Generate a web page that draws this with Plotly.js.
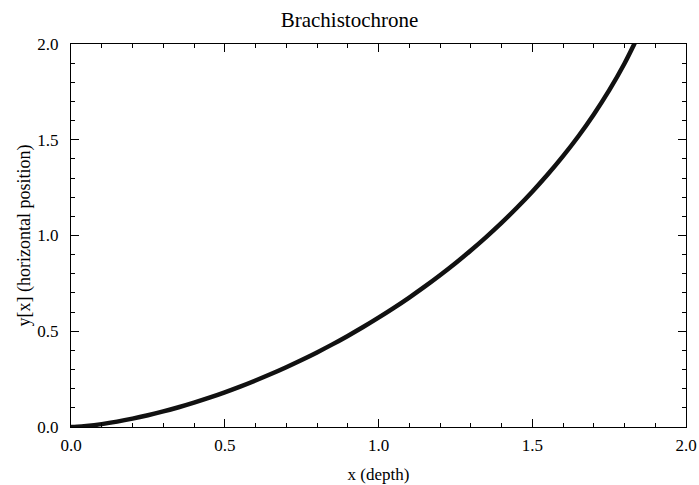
<!DOCTYPE html>
<html>
<head>
<meta charset="utf-8">
<script src="https://cdn.plot.ly/plotly-3.0.1.min.js"></script>
<style>
  html, body { margin: 0; padding: 0; background: #fff; }
  #chart { width: 699px; height: 485px; }
</style>
</head>
<body>
<div id="chart"></div>
<script>
// Brachistochrone curve: depth (x) vs horizontal position (y)
const depth = [0, 0.02, 0.05, 0.1, 0.15, 0.2, 0.25, 0.3, 0.35, 0.4, 0.45, 0.5, 0.55, 0.6, 0.65, 0.7, 0.75, 0.8, 0.85, 0.9, 0.95, 1.0,
               1.05, 1.1, 1.15, 1.2, 1.25, 1.3, 1.35, 1.4, 1.45, 1.5, 1.55, 1.6, 1.65, 1.7, 1.75, 1.8, 1.83, 1.84];
const horiz = [0, 0.0013, 0.0054, 0.0151, 0.0280, 0.0435, 0.0613, 0.0813, 0.1033, 0.1273, 0.1532, 0.1812, 0.2110, 0.2428, 0.2765, 0.3122, 0.3499, 0.3896, 0.4314, 0.4756, 0.5219, 0.5708,
               0.6221, 0.6760, 0.7327, 0.7924, 0.8552, 0.9216, 0.9917, 1.0658, 1.1447, 1.2284, 1.3181, 1.4143, 1.5183, 1.6321, 1.7575, 1.8981, 1.9939, 2.0274];

const xTickVals = [0, 0.5, 1.0, 1.5, 2.0];
const yTickVals = [0, 0.5, 1.0, 1.5, 2.0];

const serif = "Liberation Serif, Times New Roman, serif";

const axisCommon = {
  range: [0, 2],
  showgrid: false,
  zeroline: false,
  showline: true,
  linecolor: '#000',
  linewidth: 1,
  mirror: 'allticks',
  ticks: 'inside',
  ticklen: 8,
  tickwidth: 1,
  tickcolor: '#000',
  tickformat: '.1f',
  tickfont: { family: serif, size: 17, color: '#000' },
  minor: { dtick: 0.1, ticks: 'inside', ticklen: 4, tickwidth: 1, tickcolor: '#000', showgrid: false }
};

const trace = {
  x: depth,
  y: horiz,
  type: 'scatter',
  mode: 'lines',
  line: { color: '#111', width: 4.5, shape: 'spline' },
  cliponaxis: true,
  hoverinfo: 'skip'
};

const layout = {
  width: 699,
  height: 485,
  margin: { l: 71, r: 13, t: 44, b: 58 },
  paper_bgcolor: '#fff',
  plot_bgcolor: '#fff',
  showlegend: false,
  title: { text: 'Brachistochrone', font: { family: serif, size: 21, color: '#000' }, x: 0.5, xanchor: 'center', y: 0.959, yanchor: 'middle', yref: 'container' },
  xaxis: Object.assign({}, axisCommon, {
    tickvals: xTickVals,
    ticklabelstandoff: 3,
    title: { text: 'x (depth)', font: { family: serif, size: 17, color: '#000' }, standoff: 13 }
  }),
  yaxis: Object.assign({}, axisCommon, {
    tickvals: yTickVals,
    ticklabelstandoff: 8,
    title: { text: 'y[x] (horizontal position)', font: { family: serif, size: 18, color: '#000' }, standoff: 2 }
  })
};

Plotly.newPlot('chart', [trace], layout, { staticPlot: true, displayModeBar: false });
</script>
</body>
</html>
